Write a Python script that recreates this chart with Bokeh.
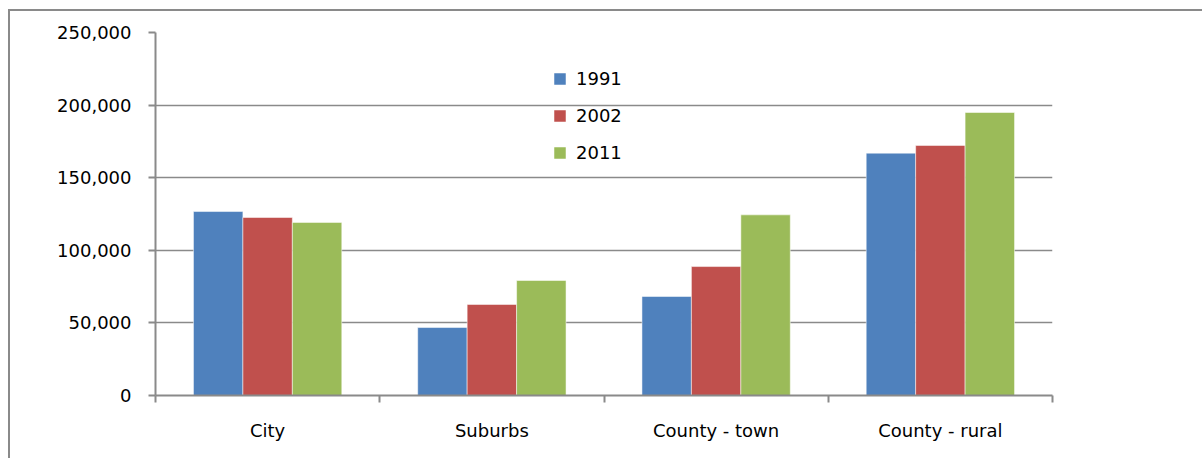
from bokeh.plotting import figure
from bokeh.models import (Range1d, LinearAxis, FixedTicker,
                          NumeralTickFormatter, Legend, LegendItem, ColumnDataSource, Grid)
from bokeh.embed import file_html
from bokeh.resources import INLINE

categories = ["City", "Suburbs", "County - town", "County - rural"]
years = ["1991", "2002", "2011"]
v1991 = [126700, 46800, 68200, 166900]
v2002 = [122600, 62700, 88800, 172200]
v2011 = [119200, 79200, 124400, 194900]
y_ticks = [0, 50000, 100000, 150000, 200000, 250000]
colors = ["#4F81BD", "#C0504D", "#9BBB59"]

FONT = "DejaVu Sans"
GRAY = "#8a8a8a"
n = len(categories)
centers = [i + 0.5 for i in range(n)]
bounds = list(range(n + 1))
bw = 0.2205

data = dict(center=centers, y1991=v1991, y2002=v2002, y2011=v2011)
for j, yr in enumerate(years):
    data["x" + yr] = [c + (j - 1) * bw for c in centers]
src = ColumnDataSource(data)

p = figure(x_range=Range1d(0, n), y_range=Range1d(0, 250000),
           frame_width=897, frame_height=363,
           min_border_left=145, min_border_right=150,
           min_border_top=21, min_border_bottom=63,
           output_backend="svg", toolbar_location=None,
           x_axis_location=None, y_axis_location=None)
p.outline_line_color = None
p.background_fill_color = "white"
p.border_fill_color = "white"
p.styles = {"border-top": "2px solid " + GRAY, "border-left": "2px solid " + GRAY,
            "margin-left": "8px", "margin-top": "9px"}

# remove default grids
p.center = [c for c in p.center if not isinstance(c, Grid)]

grid = Grid(dimension=1, ticker=FixedTicker(ticks=y_ticks),
            grid_line_color=GRAY, grid_line_width=1.5)
p.add_layout(grid)

yax = LinearAxis(ticker=FixedTicker(ticks=y_ticks),
                 formatter=NumeralTickFormatter(format="0,0"),
                 axis_line_color=GRAY, axis_line_width=2,
                 major_tick_line_color=GRAY, major_tick_line_width=2,
                 major_tick_in=0, major_tick_out=7,
                 minor_tick_line_color=None,
                 major_label_standoff=17,
                 major_label_text_font=FONT,
                 major_label_text_font_size="18px",
                 major_label_text_color="black")
p.add_layout(yax, "left")

xax = LinearAxis(ticker=FixedTicker(ticks=centers, minor_ticks=bounds),
                 major_label_overrides={c: lab for c, lab in zip(centers, categories)},
                 axis_line_color=GRAY, axis_line_width=2,
                 major_tick_line_color=None,
                 minor_tick_line_color=GRAY, minor_tick_line_width=2,
                 minor_tick_in=0, minor_tick_out=7,
                 major_label_standoff=17,
                 major_label_text_font=FONT,
                 major_label_text_font_size="18px",
                 major_label_text_color="black")
p.add_layout(xax, "below")

items = []
for j, (yr, col) in enumerate(zip(years, colors)):
    r = p.vbar(x="x" + yr, top="y" + yr, bottom=0,
               width=bw, source=src, fill_color=col,
               line_color="white", line_alpha=0.5, line_width=1)
    items.append(LegendItem(label=yr, renderers=[r]))

legend = Legend(items=items, location=(397, 232), orientation="vertical",
                glyph_width=15, glyph_height=15, label_height=15,
                spacing=16, padding=0, margin=0, label_standoff=9,
                border_line_color=None, background_fill_alpha=0,
                label_text_font=FONT, label_text_font_size="18px",
                label_text_color="black")
p.add_layout(legend)

open("out.html", "w").write(file_html(p, INLINE))
